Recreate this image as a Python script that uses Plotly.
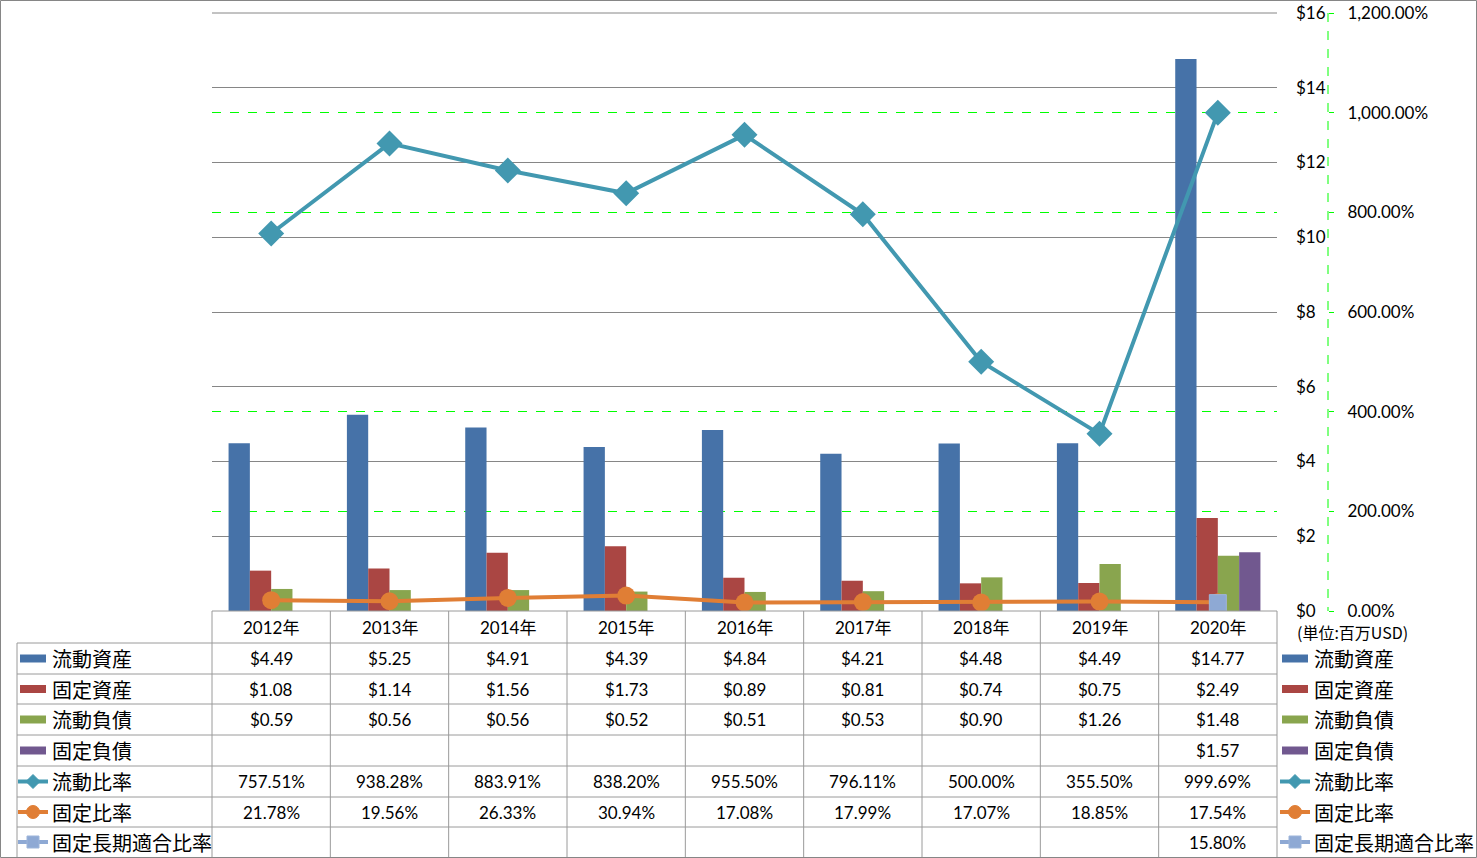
import plotly.graph_objects as go

# ---------------- data ----------------
years = ['2012年', '2013年', '2014年', '2015年', '2016年', '2017年', '2018年', '2019年', '2020年']
current_assets = [4.49, 5.25, 4.91, 4.39, 4.84, 4.21, 4.48, 4.49, 14.77]
fixed_assets = [1.08, 1.14, 1.56, 1.73, 0.89, 0.81, 0.74, 0.75, 2.49]
current_liab = [0.59, 0.56, 0.56, 0.52, 0.51, 0.53, 0.90, 1.26, 1.48]
fixed_liab = [None, None, None, None, None, None, None, None, 1.57]
current_ratio = [757.51, 938.28, 883.91, 838.20, 955.50, 796.11, 500.00, 355.50, 999.69]
fixed_ratio = [21.78, 19.56, 26.33, 30.94, 17.08, 17.99, 17.07, 18.85, 17.54]
fixed_long_ratio = [None, None, None, None, None, None, None, None, 15.80]

bar_names = ['流動資産', '固定資産', '流動負債', '固定負債']
line_names = ['流動比率', '固定比率', '固定長期適合比率']
unit_label = '(単位:百万USD)'
ratio_grid_vals = [200, 400, 800, 1000]

# ---------------- style ----------------
W, H = 1477, 858
C_BLUE, C_RED, C_GREEN, C_PURPLE = '#4672A8', '#AA4643', '#89A54E', '#71588F'
C_TEAL, C_ORANGE, C_LBLUE = '#4298B0', '#E07E35', '#8EA9D4'
GRID = '#868686'
TLINE = '#9A9A9A'
NUM_FONT = 'Lato, Noto Sans CJK JP, sans-serif'
CJK_FONT = 'Noto Sans CJK JP, sans-serif'

PX_L, PX_R, PX_T, PX_B = 212, 1277, 13, 611


def px(x):
    return x / W


def py(y):
    return 1 - y / H


fig = go.Figure()

bar_series = [current_assets, fixed_assets, current_liab, fixed_liab]
bar_colors = [C_BLUE, C_RED, C_GREEN, C_PURPLE]
for name, vals, col in zip(bar_names, bar_series, bar_colors):
    fig.add_trace(go.Bar(x=years, y=vals, name=name, marker=dict(color=col, line=dict(width=0)),
                         yaxis='y', hoverinfo='skip'))

fig.add_trace(go.Scatter(x=years, y=current_ratio, name=line_names[0], yaxis='y2', mode='lines+markers',
                         line=dict(color=C_TEAL, width=4),
                         marker=dict(symbol='diamond', size=20, color=C_TEAL), hoverinfo='skip'))
fig.add_trace(go.Scatter(x=years, y=fixed_ratio, name=line_names[1], yaxis='y2', mode='lines+markers',
                         line=dict(color=C_ORANGE, width=4),
                         marker=dict(symbol='circle', size=18, color=C_ORANGE), hoverinfo='skip'))
fig.add_trace(go.Scatter(x=years, y=fixed_long_ratio, name=line_names[2], yaxis='y2', mode='lines+markers',
                         line=dict(color=C_LBLUE, width=4),
                         marker=dict(symbol='square', size=17, color=C_LBLUE,
                                     line=dict(color='#9DB5DA', width=1)), hoverinfo='skip'))

shapes = []
annotations = []

# chart border
shapes.append(dict(type='rect', xref='paper', yref='paper', x0=px(0.5), x1=px(W - 0.5),
                   y0=py(0.5), y1=py(H - 0.5), line=dict(color=GRID, width=1)))
# top gridline of plot area
shapes.append(dict(type='line', xref='paper', yref='paper', x0=px(PX_L), x1=px(PX_R),
                   y0=py(PX_T), y1=py(PX_T), line=dict(color=GRID, width=1), layer='below'))
# secondary axis dashed line
shapes.append(dict(type='line', xref='paper', yref='paper', x0=px(1328), x1=px(1328),
                   y0=py(PX_T), y1=py(PX_B), line=dict(color='#00FF00', width=1, dash='dash')))

# table geometry
n = len(years)
colw = (PX_R - PX_L) / n
row_lines = [643, 674, 704, 735, 766, 797, 827]
row_bottom = 857
shapes.append(dict(type='line', xref='paper', yref='paper', x0=px(PX_L), x1=px(PX_R),
                   y0=py(PX_B), y1=py(PX_B), line=dict(color=TLINE, width=1)))
for yl in row_lines:
    shapes.append(dict(type='line', xref='paper', yref='paper', x0=px(17), x1=px(PX_R),
                       y0=py(yl), y1=py(yl), line=dict(color=TLINE, width=1)))
shapes.append(dict(type='line', xref='paper', yref='paper', x0=px(17), x1=px(17),
                   y0=py(643), y1=py(row_bottom), line=dict(color=TLINE, width=1)))
for k in range(n + 1):
    xx = PX_L + k * colw
    shapes.append(dict(type='line', xref='paper', yref='paper', x0=px(xx), x1=px(xx),
                       y0=py(PX_B), y1=py(row_bottom), line=dict(color=TLINE, width=1)))

row_tops = [PX_B] + row_lines
row_bots = row_lines + [row_bottom]
centers = [(a + b) / 2 for a, b in zip(row_tops, row_bots)]

# header
for k, yr in enumerate(years):
    annotations.append(dict(x=px(PX_L + (k + 0.5) * colw), y=py(centers[0]), xref='paper', yref='paper',
                            text=yr, showarrow=False, xanchor='center', yanchor='middle',
                            font=dict(family=NUM_FONT, size=17, color='#000000')))


def fmt_money(v):
    return '' if v is None else '${:.2f}'.format(v)


def fmt_pct(v):
    return '' if v is None else '{:,.2f}%'.format(v)


rows = [[fmt_money(v) for v in s] for s in bar_series] + \
       [[fmt_pct(v) for v in s] for s in (current_ratio, fixed_ratio, fixed_long_ratio)]
for r, vals in enumerate(rows):
    for k, t in enumerate(vals):
        if t:
            annotations.append(dict(x=px(PX_L + (k + 0.5) * colw), y=py(centers[r + 1]), xref='paper',
                                    yref='paper', text=t, showarrow=False, xanchor='center',
                                    yanchor='middle', font=dict(family=NUM_FONT, size=17, color='#000000')))

# legend keys (left in table, and right)
names = bar_names + line_names
for r, name in enumerate(names):
    cy = centers[r + 1]
    for (kx0, kx1, tx) in ((20, 46, 50), (1282, 1308, 1312)):
        if r < 4:
            shapes.append(dict(type='rect', xref='paper', yref='paper', x0=px(kx0), x1=px(kx1),
                               y0=py(cy - 4), y1=py(cy + 4), fillcolor=bar_colors[r], line=dict(width=0)))
        else:
            col = [C_TEAL, C_ORANGE, C_LBLUE][r - 4]
            lx0, lx1 = kx0 - 2, kx1 + 2
            cx = (lx0 + lx1) / 2
            shapes.append(dict(type='line', xref='paper', yref='paper', x0=px(lx0), x1=px(lx1),
                               y0=py(cy), y1=py(cy), line=dict(color=col, width=4)))
            if r == 4:
                d = 7
                path = 'M {} {} L {} {} L {} {} L {} {} Z'.format(
                    px(cx - d), py(cy), px(cx), py(cy - d), px(cx + d), py(cy), px(cx), py(cy + d))
                shapes.append(dict(type='path', xref='paper', yref='paper', path=path,
                                   fillcolor=col, line=dict(color=col, width=1)))
            elif r == 5:
                d = 6.5
                shapes.append(dict(type='circle', xref='paper', yref='paper', x0=px(cx - d), x1=px(cx + d),
                                   y0=py(cy - d), y1=py(cy + d), fillcolor=col, line=dict(color=col, width=1)))
            else:
                d = 6
                shapes.append(dict(type='rect', xref='paper', yref='paper', x0=px(cx - d), x1=px(cx + d),
                                   y0=py(cy - d), y1=py(cy + d), fillcolor=col, line=dict(color='#9DB5DA', width=1)))
        annotations.append(dict(x=px(tx), y=py(cy), xref='paper', yref='paper', text=name,
                                showarrow=False, xanchor='left', yanchor='middle',
                                font=dict(family=CJK_FONT, size=20, color='#000000')))

annotations.append(dict(x=px(1295), y=py(632), xref='paper', yref='paper', text=unit_label,
                        showarrow=False, xanchor='left', yanchor='middle',
                        font=dict(family=CJK_FONT, size=16, color='#000000')))

fig.update_layout(
    width=W, height=H, autosize=False,
    margin=dict(l=0, r=0, t=0, b=0, pad=0, autoexpand=False),
    paper_bgcolor='#FFFFFF', plot_bgcolor='rgba(0,0,0,0)',
    barmode='group', bargap=0.28, bargroupgap=0,
    showlegend=False,
    xaxis=dict(domain=[px(PX_L), px(PX_R)], type='category', range=[-0.5, n - 0.5], automargin=False,
               showticklabels=False, showgrid=False, zeroline=False, showline=False, ticks=''),
    yaxis=dict(domain=[py(PX_B), py(PX_T)], range=[0, 16], dtick=2, side='right', automargin=False,
               tickprefix='$', showgrid=True, gridcolor=GRID, gridwidth=1, zeroline=False,
               showline=False, ticks='', ticklabelstandoff=18,
               tickfont=dict(family=NUM_FONT, size=17, color='#000000')),
    yaxis2=dict(overlaying='y', side='right', anchor='free', position=px(1328), range=[0, 1200], dtick=200,
                automargin=False,
                tickformat=',.2f', ticksuffix='%', showgrid=False, zeroline=False, showline=False,
                ticks='outside', ticklen=5, tickcolor='#00FF00',
                minor=dict(tickmode='array', tickvals=ratio_grid_vals, showgrid=True, gridcolor='#00FF00',
                           griddash='dash', gridwidth=1, ticks=''),
                ticklabelstandoff=10,
                tickfont=dict(family=NUM_FONT, size=17, color='#000000')),
    shapes=shapes,
    annotations=annotations,
)

post = (
    "document.documentElement.style.margin='0';document.documentElement.style.padding='0';"
    "document.documentElement.style.overflow='hidden';"
    "document.body.style.margin='0';document.body.style.padding='0';document.body.style.overflow='hidden';"
    "var d=document.getElementById('{plot_id}');"
    "d.style.position='absolute';d.style.left='0px';d.style.top='0px';"
)
fig.write_html('out.html', post_script=post, config={'displayModeBar': False})
